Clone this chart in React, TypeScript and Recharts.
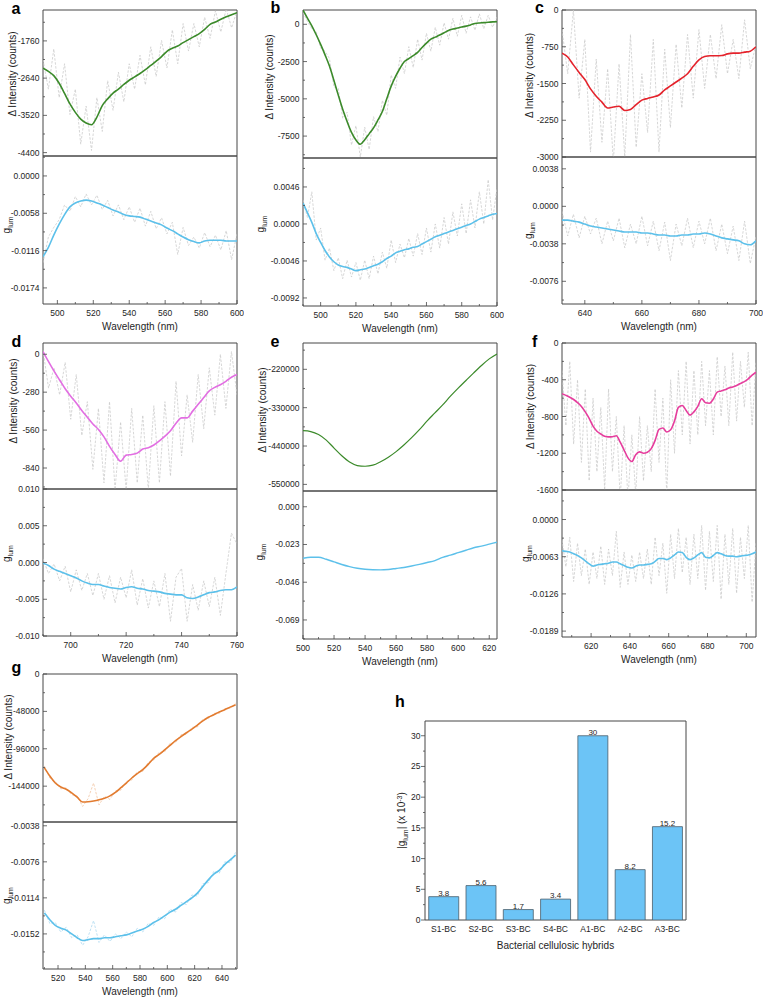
import React from 'react';
import { LineChart, Line, XAxis, YAxis, ReferenceArea, BarChart, Bar, LabelList } from 'recharts';

const FONT = '"Liberation Sans", Arial, Helvetica, sans-serif';
const FRAME = '#474747';
const TEXT = '#1e1e1e';
const GRAY = '#cacaca';
const CYAN = '#5cc0ea';
const GREEN = '#3b8a2a';
const RED = '#e4222b';
const ORCHID = '#e26ee2';
const PINK = '#e63d9d';
const ORANGE = '#e27b2f';

// ---------- panel a ----------
const aWl = [492, 495, 498, 501, 504, 507, 510, 513, 516, 519, 522, 525, 528, 531, 534, 537, 540, 543, 546, 549, 552, 555, 558, 561, 564, 567, 570, 573, 576, 579, 582, 585, 588, 591, 594, 597, 600];
const aIntSmooth = [-2404, -2480, -2580, -2760, -3000, -3250, -3450, -3610, -3700, -3740, -3560, -3290, -3130, -2994, -2900, -2790, -2690, -2610, -2530, -2440, -2340, -2240, -2130, -2005, -1935, -1880, -1800, -1730, -1660, -1590, -1490, -1370, -1315, -1250, -1190, -1140, -1092];
const aIntRaw = [-2200, -2900, -1950, -3100, -2300, -3500, -2900, -4200, -3300, -4350, -3100, -3900, -2700, -3400, -2500, -3200, -2300, -2900, -2100, -2800, -1900, -2600, -1750, -2400, -1500, -2300, -1350, -2000, -1350, -1900, -1200, -1700, -1050, -1550, -1000, -1450, -1050];
const aGlumSmooth = [-0.01255, -0.0111, -0.0092, -0.0075, -0.006, -0.0048, -0.0042, -0.0039, -0.00375, -0.0039, -0.0042, -0.0045, -0.0049, -0.0053, -0.0056, -0.006, -0.0062, -0.0063, -0.0064, -0.0067, -0.007, -0.0073, -0.0076, -0.0081, -0.0085, -0.009, -0.0095, -0.0099, -0.0102, -0.0104, -0.0101, -0.01, -0.01, -0.01, -0.0101, -0.0101, -0.0101];
const aGlumRaw = [-0.0135, -0.0095, -0.008, -0.0068, -0.0045, -0.0055, -0.0032, -0.0048, -0.0028, -0.0045, -0.003, -0.0052, -0.0038, -0.0062, -0.0045, -0.0068, -0.0048, -0.0072, -0.005, -0.0078, -0.0055, -0.0082, -0.0065, -0.009, -0.0072, -0.0122, -0.008, -0.0108, -0.0095, -0.0112, -0.0088, -0.011, -0.0092, -0.0115, -0.0085, -0.013, -0.009];

// ---------- panel b ----------
const bWl = [490, 492.5, 495, 497.5, 500, 502.5, 505, 507.5, 510, 512.5, 515, 517.5, 520, 522.5, 525, 527.5, 530, 532.5, 535, 537.5, 540, 542.5, 545, 547.5, 550, 552.5, 555, 557.5, 560, 562.5, 565, 567.5, 570, 572.5, 575, 577.5, 580, 582.5, 585, 587.5, 590, 592.5, 595, 597.5, 600];
const bIntSmooth = [958, 420, -100, -700, -1350, -2050, -2800, -3750, -4750, -5700, -6520, -7250, -7760, -8050, -7740, -7350, -6950, -6420, -5850, -5000, -4150, -3500, -2950, -2500, -2300, -2100, -1880, -1560, -1260, -1000, -860, -720, -570, -410, -320, -250, -180, -120, -40, 50, 90, 110, 140, 160, 174];
const bIntRaw = [800, 200, -300, -500, -1600, -1800, -2300, -4200, -4300, -6300, -5900, -8100, -6800, -8900, -6900, -8400, -6200, -7200, -5100, -6100, -3400, -4300, -2200, -3300, -1500, -2900, -1000, -2400, -600, -1800, -200, -1400, 100, -1000, 400, -800, 600, -600, 500, -400, 700, -300, 600, -200, 500];
const bGlumSmooth = [0.0026, 0.0014, 0.0002, -0.0012, -0.0023, -0.0033, -0.0041, -0.0047, -0.0051, -0.0053, -0.0054, -0.0056, -0.0058, -0.0057, -0.0056, -0.0054, -0.0052, -0.005, -0.0047, -0.0043, -0.004, -0.0036, -0.0034, -0.0032, -0.0031, -0.0029, -0.0028, -0.0025, -0.0022, -0.0019, -0.0016, -0.0014, -0.0012, -0.001, -0.0008, -0.0006, -0.0004, -0.0002, 0, 0.0003, 0.0006, 0.0008, 0.001, 0.0012, 0.0013];
const bGlumRaw = [0.003, 0.0008, 0.004, -0.002, -0.0005, -0.0045, -0.003, -0.0058, -0.0042, -0.0068, -0.0045, -0.0066, -0.0048, -0.007, -0.0045, -0.0068, -0.004, -0.0062, -0.0035, -0.0055, -0.002, -0.0048, -0.0025, -0.0042, -0.0018, -0.004, -0.0012, -0.0038, -0.0005, -0.0035, 0, -0.003, 0.0008, -0.0025, 0.0015, -0.0015, 0.0025, -0.0012, 0.003, -0.0005, 0.004, 0, 0.0055, 0.0005, 0.0045];

// ---------- panel c ----------
const cWl = [632, 634, 636, 638, 640, 642, 644, 646, 648, 650, 652, 654, 656, 658, 660, 662, 664, 666, 668, 670, 672, 674, 676, 678, 680, 682, 684, 686, 688, 690, 692, 694, 696, 698, 700];
const cIntSmooth = [-880, -960, -1120, -1275, -1420, -1610, -1760, -1880, -2000, -1980, -1965, -2050, -2030, -1930, -1840, -1805, -1775, -1735, -1630, -1550, -1470, -1390, -1300, -1150, -1020, -950, -935, -935, -930, -895, -880, -880, -860, -840, -750];
const cIntRaw = [-400, -1300, 0, -1800, -600, -2900, -1000, -2700, -1200, -3100, -1100, -3000, -500, -2800, -1300, -2500, -600, -2900, -800, -2400, -700, -2000, -500, -1800, -400, -1600, -500, -1400, -300, -1300, -600, -1400, -200, -1200, -700];
const cGlumSmooth = [-0.0014, -0.0014, -0.0015, -0.0016, -0.0018, -0.002, -0.0021, -0.0022, -0.0023, -0.0024, -0.0025, -0.0026, -0.0026, -0.0026, -0.0027, -0.0027, -0.0028, -0.0029, -0.0029, -0.003, -0.003, -0.0029, -0.0029, -0.0028, -0.0028, -0.0027, -0.0028, -0.003, -0.0032, -0.0033, -0.0034, -0.0035, -0.0038, -0.0039, -0.0035];
const cGlumRaw = [-0.0005, -0.003, -0.0008, -0.0032, -0.001, -0.0028, -0.0012, -0.0038, -0.0015, -0.0035, -0.0012, -0.0042, -0.0018, -0.0038, -0.001, -0.004, -0.0015, -0.0045, -0.0016, -0.0055, -0.0018, -0.004, -0.0012, -0.0042, -0.0015, -0.0038, -0.0012, -0.0045, -0.0018, -0.0048, -0.002, -0.0055, -0.0015, -0.0058, -0.003];

// ---------- panel d ----------
const dWl = [690, 692, 694, 696, 698, 700, 702, 704, 706, 708, 710, 712, 714, 716, 718, 720, 722, 724, 726, 728, 730, 732, 734, 736, 738, 740, 742, 744, 746, 748, 750, 752, 754, 756, 758, 760];
const dIntSmooth = [20, -55, -125, -190, -255, -310, -360, -415, -465, -515, -555, -610, -680, -740, -790, -745, -740, -730, -700, -690, -670, -640, -605, -565, -510, -470, -470, -420, -370, -320, -270, -245, -225, -200, -170, -150];
const dIntRaw = [30, -250, -100, -300, -60, -480, -150, -600, -350, -850, -400, -950, -350, -1000, -500, -1000, -400, -950, -450, -1000, -380, -950, -350, -900, -200, -750, -300, -650, -150, -550, -100, -450, 0, -400, 20, -300];
const dGlumSmooth = [-0.0001, -0.0004, -0.0009, -0.0012, -0.0015, -0.0018, -0.0021, -0.0025, -0.0028, -0.003, -0.003, -0.0032, -0.0034, -0.0035, -0.0036, -0.0034, -0.0033, -0.0035, -0.0036, -0.0038, -0.0039, -0.004, -0.0042, -0.0043, -0.0044, -0.0044, -0.0048, -0.0049, -0.0047, -0.0044, -0.0041, -0.004, -0.0038, -0.0037, -0.0037, -0.0033];
const dGlumRaw = [0.0005, -0.0015, -0.0002, -0.0025, -0.0005, -0.004, -0.001, -0.0038, -0.0015, -0.0045, -0.0015, -0.005, -0.0018, -0.0055, -0.002, -0.0048, -0.001, -0.0058, -0.0022, -0.0062, -0.0025, -0.006, -0.0015, -0.008, -0.002, -0.0008, -0.008, -0.003, -0.0065, -0.0025, -0.006, -0.002, -0.0072, -0.0015, 0.004, 0.0025];

// ---------- panel e ----------
const eWl = [500, 505, 510, 515, 520, 525, 530, 535, 540, 545, 550, 555, 560, 565, 570, 575, 580, 585, 590, 595, 600, 605, 610, 615, 620, 625];
const eIntSmooth = [-396000, -398500, -407000, -423000, -446000, -468000, -486000, -496000, -498000, -495000, -485000, -472000, -456000, -437000, -416000, -393000, -368000, -345000, -322000, -297000, -274000, -252000, -230000, -209000, -190000, -176000];
const eGlumSmooth = [-0.0314, -0.0308, -0.0308, -0.032, -0.0336, -0.0352, -0.0365, -0.0375, -0.0381, -0.0384, -0.0385, -0.0382, -0.0376, -0.037, -0.0361, -0.0351, -0.034, -0.0328, -0.0309, -0.0295, -0.028, -0.0265, -0.025, -0.024, -0.0228, -0.0216];

// ---------- panel f ----------
const fWl = [605, 607, 609, 611, 613, 615, 617, 619, 621, 623, 625, 627, 629, 631, 633, 635, 637, 639, 641, 643, 645, 647, 649, 651, 653, 655, 657, 659, 661, 663, 665, 667, 669, 671, 673, 675, 677, 679, 681, 683, 685, 687, 689, 691, 693, 695, 697, 699, 701, 703, 705];
const fIntSmooth = [-552, -570, -590, -615, -650, -690, -750, -820, -905, -960, -990, -1015, -1022, -1020, -1010, -1080, -1165, -1250, -1290, -1215, -1185, -1200, -1190, -1150, -1060, -940, -925, -968, -945, -850, -700, -680, -735, -785, -750, -690, -607, -650, -655, -610, -535, -522, -510, -490, -478, -462, -440, -420, -390, -350, -318];
const fIntRaw = [-300, -900, -200, -1100, -400, -1300, -500, -1500, -600, -1400, -700, -1600, -500, -1400, -800, -1700, -900, -1700, -1000, -1650, -800, -1500, -900, -1400, -500, -1300, -600, -1650, -400, -1200, -300, -1000, -200, -1100, -300, -1000, -200, -900, -300, -1000, -150, -800, -250, -900, -100, -850, -200, -700, -100, -900, -200];
const fGlumSmooth = [-0.0053, -0.0054, -0.0055, -0.0058, -0.0061, -0.0065, -0.007, -0.0075, -0.0079, -0.0077, -0.0076, -0.0075, -0.0074, -0.0072, -0.0072, -0.0075, -0.0078, -0.0081, -0.0082, -0.0079, -0.0077, -0.0077, -0.0076, -0.0075, -0.0071, -0.0066, -0.0066, -0.0068, -0.0065, -0.006, -0.0055, -0.0056, -0.0064, -0.0068, -0.0065, -0.006, -0.0056, -0.0064, -0.0065, -0.0061, -0.0056, -0.0058, -0.0061, -0.0062, -0.0062, -0.0063, -0.0062, -0.0061, -0.006, -0.0058, -0.0055];
const fGlumRaw = [-0.0035, -0.008, -0.003, -0.0105, -0.004, -0.0095, -0.005, -0.011, -0.0055, -0.01, -0.0045, -0.011, -0.005, -0.0095, -0.002, -0.0115, -0.0055, -0.011, -0.006, -0.0105, -0.0055, -0.01, -0.005, -0.011, -0.003, -0.0095, -0.004, -0.0125, -0.0025, -0.01, -0.0015, -0.009, -0.003, -0.011, -0.0025, -0.01, -0.001, -0.012, -0.002, -0.0105, -0.001, -0.0135, -0.0025, -0.011, -0.0015, -0.0125, -0.003, -0.01, -0.001, -0.014, -0.004];

// ---------- panel g ----------
const gWl = [510, 514, 518, 522, 526, 530, 534, 538, 542, 546, 550, 554, 558, 562, 566, 570, 574, 578, 582, 586, 590, 594, 598, 602, 606, 610, 614, 618, 622, 626, 630, 634, 638, 642, 646, 650];
const gIntSmooth = [-120500, -131000, -140000, -145000, -148000, -152500, -158000, -164300, -164000, -163000, -161500, -159500, -156500, -152000, -146000, -140000, -133500, -128000, -122800, -116000, -108200, -103300, -97500, -91500, -85600, -80300, -75400, -70700, -65500, -60200, -55600, -52300, -48700, -45800, -42500, -39400];
const gIntRaw = [-118000, -133500, -138000, -147500, -146000, -155000, -156500, -170000, -160000, -140000, -168000, -157000, -161000, -150000, -149000, -138000, -136000, -125500, -125000, -113500, -110500, -100500, -100000, -89000, -88000, -78000, -77500, -68500, -68000, -58000, -57500, -50500, -50500, -44500, -44000, -37500];
const gGlumSmooth = [-0.013, -0.0137, -0.0143, -0.0146, -0.0148, -0.0152, -0.0156, -0.0159, -0.0158, -0.0157, -0.0157, -0.0156, -0.0156, -0.0155, -0.0154, -0.0153, -0.0151, -0.0149, -0.0147, -0.0144, -0.014, -0.0137, -0.0133, -0.0129, -0.0126, -0.0122, -0.0118, -0.0114, -0.0109, -0.0102, -0.0095, -0.0089, -0.0085, -0.0079, -0.0074, -0.0069];
const gGlumRaw = [-0.0127, -0.0141, -0.014, -0.015, -0.0145, -0.0156, -0.0153, -0.0164, -0.0155, -0.0138, -0.0161, -0.0153, -0.016, -0.0152, -0.0157, -0.015, -0.0155, -0.0146, -0.015, -0.0141, -0.0143, -0.0134, -0.0136, -0.0126, -0.0129, -0.0119, -0.0121, -0.0111, -0.0112, -0.0099, -0.0098, -0.0086, -0.0088, -0.0076, -0.0077, -0.0066];

// ---------- panel h ----------
const hCategories = ['S1-BC', 'S2-BC', 'S3-BC', 'S4-BC', 'A1-BC', 'A2-BC', 'A3-BC'];
const hValues = [3.8, 5.6, 1.7, 3.4, 30, 8.2, 15.2];
const hTicks = [0, 5, 10, 15, 20, 25, 30];

const panelLetters = ['a', 'b', 'c', 'd', 'e', 'f', 'g', 'h'];

const intFmt = (v: number) => String(Math.round(v));
const f4 = (v: number) => v.toFixed(4);
const f3 = (v: number) => v.toFixed(3);

const MT = 8; // chart margin top (room for edge tick labels)
const MR = 7; // chart margin right
const XH = 34; // x axis height

function withMinors(majors: number[], domain: [number, number]): number[] {
  const step = majors[1] - majors[0];
  const eps = Math.abs(step) * 1e-6;
  const lo = Math.min(domain[0], domain[1]) - eps;
  const hi = Math.max(domain[0], domain[1]) + eps;
  const out: number[] = [...majors, majors[0] - step / 2];
  majors.forEach((m) => out.push(m + step / 2));
  return out.filter((v) => v >= lo && v <= hi).sort((a, b) => a - b);
}

function yTickFactory(majors: number[], fmt: (v: number) => string, outward = false) {
  const step = Math.abs(majors[1] - majors[0]);
  return (props: any) => {
    const { x, y, payload } = props;
    const v = Number(payload.value);
    const major = majors.some((m) => Math.abs(m - v) < step * 1e-3);
    const ax = x + 3;
    const len = major ? 4 : 2;
    return (
      <g>
        <line x1={ax} x2={outward ? ax - len : ax + len} y1={y} y2={y} stroke={FRAME} strokeWidth={0.8} />
        {major ? (
          <text x={ax - (outward ? 4.5 : 3.5)} y={y} dy={3} textAnchor="end" fontSize={8.5} fontFamily={FONT} fill={TEXT}>
            {fmt(v)}
          </text>
        ) : null}
      </g>
    );
  };
}

function xTickFactory(majors: number[]) {
  const step = Math.abs(majors[1] - majors[0]);
  return (props: any) => {
    const { x, y, payload } = props;
    const v = Number(payload.value);
    const major = majors.some((m) => Math.abs(m - v) < step * 1e-3);
    const ay = y - 5;
    const len = major ? 4 : 2;
    return (
      <g>
        <line x1={x} x2={x} y1={ay} y2={ay - len} stroke={FRAME} strokeWidth={0.8} />
        {major ? (
          <text x={x} y={ay + 12} textAnchor="middle" fontSize={8.5} fontFamily={FONT} fill={TEXT}>
            {String(v)}
          </text>
        ) : null}
      </g>
    );
  };
}

function YTitle(props: any) {
  const { viewBox, off, shift, kind } = props;
  if (!viewBox) return null;
  const ax = viewBox.x + viewBox.width;
  const cy = viewBox.y + viewBox.height / 2 + shift;
  const bx = ax - off + (kind === 'int' ? 3.5 : 2);
  return (
    <text x={bx} y={cy} transform={`rotate(-90 ${bx} ${cy})`} textAnchor="middle" fontSize={10} fontFamily={FONT} fill={TEXT}>
      {kind === 'int' ? (
        'Δ Intensity (counts)'
      ) : (
        <>
          g<tspan fontSize={7} dy={2.5}>lum</tspan>
        </>
      )}
    </text>
  );
}

function XTitle(props: any) {
  const { viewBox, text, dyBase } = props;
  if (!viewBox) return null;
  return (
    <text x={viewBox.x + viewBox.width / 2} y={viewBox.y + dyBase} textAnchor="middle" fontSize={10} fontFamily={FONT} fill={TEXT}>
      {text}
    </text>
  );
}

type SubProps = {
  left: number;
  yW: number;
  top: number;
  ph: number;
  pw?: number;
  wl: number[];
  smooth: number[];
  raw?: number[];
  color: string;
  rawColor?: string;
  lineW?: number;
  xDomain: [number, number];
  xMajors?: number[];
  yDomain: [number, number];
  yMajors: number[];
  yFmt: (v: number) => string;
  kind: 'int' | 'glum';
  off: number;
  shift: number;
};

function Sub(p: SubProps) {
  const pw = p.pw ?? 194;
  const showX = !!p.xMajors;
  const rows = p.wl.map((w, i) => ({ wl: w, s: p.smooth[i], r: p.raw ? p.raw[i] : null }));
  const yTicks = withMinors(p.yMajors, p.yDomain);
  const xTicks = p.xMajors ? withMinors(p.xMajors, p.xDomain) : undefined;
  const mb = showX ? 0 : MT;
  const h = MT + p.ph + (showX ? XH : mb);
  return (
    <div style={{ position: 'absolute', left: p.left - p.yW, top: p.top - MT }}>
      <LineChart width={p.yW + pw + MR} height={h} data={rows} margin={{ top: MT, right: MR, left: 0, bottom: mb }}>
        <XAxis
          type="number"
          dataKey="wl"
          domain={p.xDomain}
          allowDataOverflow
          hide={!showX}
          height={XH}
          ticks={xTicks}
          interval={0}
          tickSize={0}
          tickMargin={5}
          axisLine={false}
          tick={p.xMajors ? xTickFactory(p.xMajors) : false}
          label={<XTitle text="Wavelength (nm)" dyBase={26} />}
        />
        <YAxis
          type="number"
          domain={p.yDomain}
          allowDataOverflow
          ticks={yTicks}
          interval={0}
          width={p.yW}
          tickSize={0}
          tickMargin={3}
          axisLine={false}
          tick={yTickFactory(p.yMajors, p.yFmt)}
          label={<YTitle kind={p.kind} off={p.off} shift={p.shift} />}
        />
        <ReferenceArea x1={p.xDomain[0]} x2={p.xDomain[1]} y1={p.yDomain[0]} y2={p.yDomain[1]} fill="none" fillOpacity={0} stroke={FRAME} strokeWidth={1} ifOverflow="visible" />
        {p.raw ? (
          <Line type="linear" dataKey="r" stroke={p.rawColor ?? GRAY} strokeWidth={0.75} strokeDasharray="2.5 1.5" dot={false} activeDot={false} isAnimationActive={false} />
        ) : null}
        <Line type="monotone" dataKey="s" stroke={p.color} strokeWidth={p.lineW ?? 1.6} dot={false} activeDot={false} isAnimationActive={false} />
      </LineChart>
    </div>
  );
}

function HYTitle(props: any) {
  const { viewBox } = props;
  if (!viewBox) return null;
  const ax = viewBox.x + viewBox.width;
  const cy = viewBox.y + viewBox.height / 2;
  const bx = ax - 23.3 + 3.5;
  return (
    <text x={bx} y={cy} transform={`rotate(-90 ${bx} ${cy})`} textAnchor="middle" fontSize={10} fontFamily={FONT} fill={TEXT}>
      |g<tspan fontSize={7} dy={2.5}>lum</tspan>
      <tspan fontSize={10} dy={-2.5}>| (x 10</tspan>
      <tspan fontSize={7} dy={-3.5}>-3</tspan>
      <tspan fontSize={10} dy={3.5}>)</tspan>
    </text>
  );
}

function BarPanel() {
  const rows = hCategories.map((c, i) => ({ name: c, v: hValues[i] }));
  const yMax = 32.4;
  const ticks = withMinors(hTicks, [0, yMax]);
  return (
    <div style={{ position: 'absolute', left: 370, top: 721 - MT }}>
      <BarChart width={55 + 261 + MR} height={MT + 199 + XH} data={rows} margin={{ top: MT, right: MR, left: 0, bottom: 0 }} barCategoryGap="10%">
        <XAxis
          dataKey="name"
          type="category"
          height={XH}
          interval={0}
          tickLine={false}
          axisLine={false}
          tickSize={0}
          tickMargin={6}
          tick={{ fontSize: 8.5, fill: TEXT, fontFamily: FONT }}
          label={<XTitle text="Bacterial cellulosic hybrids" dyBase={28.5} />}
        />
        <YAxis
          type="number"
          domain={[0, yMax]}
          allowDataOverflow
          ticks={ticks}
          interval={0}
          width={55}
          tickSize={0}
          tickMargin={3}
          axisLine={false}
          tick={yTickFactory(hTicks, (v) => String(v), true)}
          label={<HYTitle />}
        />
        <ReferenceArea y1={0} y2={yMax} fill="none" fillOpacity={0} stroke={FRAME} strokeWidth={1} ifOverflow="visible" />
        <Bar dataKey="v" fill="#6cc4f6" stroke="#4a5e6c" strokeWidth={0.8} isAnimationActive={false}>
          <LabelList dataKey="v" position="top" offset={1} fontSize={8} fill={TEXT} fontFamily={FONT} />
        </Bar>
      </BarChart>
    </div>
  );
}

const letterPos: [number, number][] = [
  [11.5, 13.5],
  [270.5, 13.3],
  [535, 13.3],
  [11.5, 346.7],
  [270.5, 346.7],
  [532, 346.7],
  [11.5, 673.3],
  [395, 706.7],
];

export default function App() {
  return (
    <div style={{ position: 'absolute', left: 0, top: 0, width: 763, height: 999, overflow: 'hidden', background: '#fff', fontFamily: FONT }}>
      {/* a */}
      <Sub left={43} yW={43} top={10} ph={146} wl={aWl} smooth={aIntSmooth} raw={aIntRaw} color={GREEN}
        xDomain={[492, 600]} yDomain={[-4480, -1030]} yMajors={[-4400, -3520, -2640, -1760]} yFmt={intFmt} kind="int" off={31} shift={-9} />
      <Sub left={43} yW={43} top={156} ph={148} wl={aWl} smooth={aGlumSmooth} raw={aGlumRaw} color={CYAN}
        xDomain={[492, 600]} xMajors={[500, 520, 540, 560, 580, 600]} yDomain={[-0.0199, 0.0031]} yMajors={[-0.0174, -0.0116, -0.0058, 0]} yFmt={f4} kind="glum" off={35} shift={-5} />
      {/* b */}
      <Sub left={303} yW={53} top={10} ph={148} wl={bWl} smooth={bIntSmooth} raw={bIntRaw} color={GREEN}
        xDomain={[490, 600]} yDomain={[-8970, 960]} yMajors={[-7500, -5000, -2500, 0]} yFmt={intFmt} kind="int" off={34} shift={-7} />
      <Sub left={303} yW={53} top={158} ph={148} wl={bWl} smooth={bGlumSmooth} raw={bGlumRaw} color={CYAN}
        xDomain={[490, 600]} xMajors={[500, 520, 540, 560, 580, 600]} yDomain={[-0.0102, 0.0082]} yMajors={[-0.0092, -0.0046, 0, 0.0046]} yFmt={f4} kind="glum" off={41} shift={-8} />
      {/* c */}
      <Sub left={562} yW={52} top={10} ph={147} wl={cWl} smooth={cIntSmooth} raw={cIntRaw} color={RED}
        xDomain={[632, 700]} yDomain={[-3000, 0]} yMajors={[-3000, -2250, -1500, -750, 0]} yFmt={intFmt} kind="int" off={33} shift={-8} />
      <Sub left={562} yW={52} top={157} ph={147} wl={cWl} smooth={cGlumSmooth} raw={cGlumRaw} color={CYAN}
        xDomain={[632, 700]} xMajors={[640, 660, 680, 700]} yDomain={[-0.0099, 0.005]} yMajors={[-0.0076, -0.0038, 0, 0.0038]} yFmt={f4} kind="glum" off={32} shift={0} />
      {/* d */}
      <Sub left={43} yW={43} top={343} ph={146} wl={dWl} smooth={dIntSmooth} raw={dIntRaw} color={ORCHID}
        xDomain={[690, 760]} yDomain={[-995, 83]} yMajors={[-840, -560, -280, 0]} yFmt={intFmt} kind="int" off={30} shift={-15} />
      <Sub left={43} yW={43} top={489} ph={147} wl={dWl} smooth={dGlumSmooth} raw={dGlumRaw} color={CYAN}
        xDomain={[690, 760]} xMajors={[700, 720, 740, 760]} yDomain={[-0.01, 0.01]} yMajors={[-0.01, -0.005, 0, 0.005, 0.01]} yFmt={f3} kind="glum" off={35} shift={-9} />
      {/* e */}
      <Sub left={303} yW={53} top={343} ph={148} wl={eWl} smooth={eIntSmooth} color={GREEN} lineW={1.2}
        xDomain={[500, 625]} yDomain={[-569000, -144500]} yMajors={[-550000, -440000, -330000, -220000]} yFmt={intFmt} kind="int" off={41} shift={-7} />
      <Sub left={303} yW={53} top={491} ph={148} wl={eWl} smooth={eGlumSmooth} color={CYAN} lineW={1.4}
        xDomain={[500, 625]} xMajors={[500, 520, 540, 560, 580, 600, 620]} yDomain={[-0.0806, 0.0096]} yMajors={[-0.069, -0.046, -0.023, 0]} yFmt={f3} kind="glum" off={42} shift={-13} />
      {/* f */}
      <Sub left={562} yW={52} top={343} ph={147} wl={fWl} smooth={fIntSmooth} raw={fIntRaw} color={PINK}
        xDomain={[605, 705]} yDomain={[-1600, 0]} yMajors={[-1600, -1200, -800, -400, 0]} yFmt={intFmt} kind="int" off={32} shift={-10} />
      <Sub left={562} yW={52} top={490} ph={147} wl={fWl} smooth={fGlumSmooth} raw={fGlumRaw} color={CYAN}
        xDomain={[605, 705]} xMajors={[620, 640, 660, 680, 700]} yDomain={[-0.0199, 0.005]} yMajors={[-0.0189, -0.0126, -0.0063, 0]} yFmt={f4} kind="glum" off={35} shift={-10} />
      {/* g */}
      <Sub left={43} yW={43} top={674} ph={148} wl={gWl} smooth={gIntSmooth} raw={gIntRaw} color={ORANGE} rawColor="#f0c29e"
        xDomain={[509, 651]} yDomain={[-190000, 0]} yMajors={[-144000, -96000, -48000, 0]} yFmt={intFmt} kind="int" off={35} shift={-11} />
      <Sub left={43} yW={43} top={822} ph={147} wl={gWl} smooth={gGlumSmooth} raw={gGlumRaw} color={CYAN} rawColor="#a9d7ef"
        xDomain={[509, 651]} xMajors={[520, 540, 560, 580, 600, 620, 640]} yDomain={[-0.0189, -0.0034]} yMajors={[-0.0152, -0.0114, -0.0076, -0.0038]} yFmt={f4} kind="glum" off={35} shift={0} />
      {/* h */}
      <BarPanel />
      <svg width={763} height={999} style={{ position: 'absolute', left: 0, top: 0, pointerEvents: 'none' }}>
        {panelLetters.map((l, i) => (
          <text key={l} x={letterPos[i][0]} y={letterPos[i][1]} fontSize={16} fontWeight="bold" fontFamily={FONT} fill="#000">
            {l}
          </text>
        ))}
      </svg>
    </div>
  );
}
